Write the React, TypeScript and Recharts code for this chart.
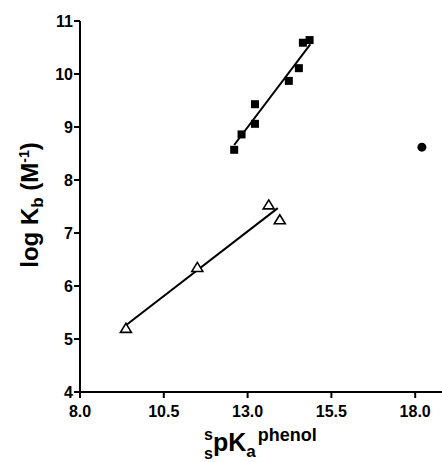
import { ScatterChart, Scatter, XAxis, YAxis } from "recharts";

const squares = [
  { x: 12.6, y: 8.57 },
  { x: 12.82, y: 8.86 },
  { x: 13.22, y: 9.43 },
  { x: 13.22, y: 9.06 },
  { x: 14.23, y: 9.87 },
  { x: 14.53, y: 10.11 },
  { x: 14.65, y: 10.59 },
  { x: 14.85, y: 10.64 },
];

const triangles = [
  { x: 9.37, y: 5.2 },
  { x: 11.5, y: 6.35 },
  { x: 13.63, y: 7.53 },
  { x: 13.96, y: 7.25 },
];

const circles = [{ x: 18.2, y: 8.62 }];

// linear fit end points
const fitSquares = [
  { x: 12.6, y: 8.66 },
  { x: 14.87, y: 10.56 },
];
const fitTriangles = [
  { x: 9.37, y: 5.26 },
  { x: 13.9, y: 7.47 },
];

const xTicks = [8, 10.5, 13, 15.5, 18];
const yTicks = [4, 5, 6, 7, 8, 9, 10, 11];

const FONT = "'Liberation Sans', Arial, Helvetica, sans-serif";

const XTick = (p: any) => (
  <text
    x={p.x}
    y={p.y + 17}
    textAnchor="middle"
    fontFamily={FONT}
    fontWeight={700}
    fontSize={16}
    fill="#000"
  >
    {Number(p.payload.value).toFixed(1)}
  </text>
);

const YTick = (p: any) => (
  <text
    x={p.x + 1}
    y={p.y + 6}
    textAnchor="end"
    fontFamily={FONT}
    fontWeight={700}
    fontSize={16}
    fill="#000"
  >
    {p.payload.value}
  </text>
);

const Square = (p: any) => (
  <rect x={p.cx - 4} y={p.cy - 4} width={8} height={8} fill="#000" />
);

const Triangle = (p: any) => (
  <path
    d={`M${p.cx},${p.cy - 5} L${p.cx + 5.5},${p.cy + 4} L${p.cx - 5.5},${p.cy + 4} Z`}
    fill="#fff"
    stroke="#000"
    strokeWidth={1.6}
  />
);

const Dot = (p: any) => <circle cx={p.cx} cy={p.cy} r={4.5} fill="#000" />;

const NoShape = () => <g />;

const XTitle = (props: any) => {
  const vb = props.viewBox;
  const x0 = vb.x + 124;
  const base = vb.y + 59;
  return (
    <text fontFamily={FONT} fontWeight={700} fill="#000">
      <tspan x={x0} y={base - 11} fontSize={16}>s</tspan>
      <tspan x={x0} y={base + 8} fontSize={16}>s</tspan>
      <tspan x={x0 + 9} y={base} fontSize={25}>pK</tspan>
      <tspan dy={6} fontSize={17}>a</tspan>
      <tspan dx={2} dy={-16} fontSize={18}>phenol</tspan>
    </text>
  );
};

const YTitle = () => (
  <text
    transform="translate(38,205) rotate(-90)"
    textAnchor="middle"
    fontFamily={FONT}
    fontWeight={700}
    fill="#000"
    fontSize={24}
  >
    log K
    <tspan fontSize={17} dy={5}>b</tspan>
    <tspan dy={-5}> (M</tspan>
    <tspan fontSize={14} dy={-9}>-1</tspan>
    <tspan dy={9}>)</tspan>
  </text>
);

export default function App() {
  return (
    <div style={{ position: "absolute", left: 0, top: 0, background: "#fff" }}>
      <ScatterChart
        width={442}
        height={462}
        margin={{ top: 21, right: 0, bottom: 0, left: 0 }}
      >
        <XAxis
          type="number"
          dataKey="x"
          domain={[8, 18.8]}
          ticks={xTicks}
          allowDataOverflow
          height={70}
          tick={XTick}
          tickSize={6}
          axisLine={{ stroke: "#000", strokeWidth: 2 }}
          tickLine={{ stroke: "#000", strokeWidth: 2 }}
          label={{ content: XTitle }}
        />
        <YAxis
          type="number"
          dataKey="y"
          domain={[4, 11]}
          ticks={yTicks}
          width={80}
          tick={YTick}
          tickSize={6}
          axisLine={{ stroke: "#000", strokeWidth: 2 }}
          tickLine={{ stroke: "#000", strokeWidth: 2 }}
          label={{ content: YTitle }}
        />
        <Scatter
          data={fitSquares}
          line={{ stroke: "#000", strokeWidth: 2 }}
          shape={NoShape}
          isAnimationActive={false}
        />
        <Scatter
          data={fitTriangles}
          line={{ stroke: "#000", strokeWidth: 2 }}
          shape={NoShape}
          isAnimationActive={false}
        />
        <Scatter data={squares} shape={Square} isAnimationActive={false} />
        <Scatter data={triangles} shape={Triangle} isAnimationActive={false} />
        <Scatter data={circles} shape={Dot} isAnimationActive={false} />
      </ScatterChart>
    </div>
  );
}
